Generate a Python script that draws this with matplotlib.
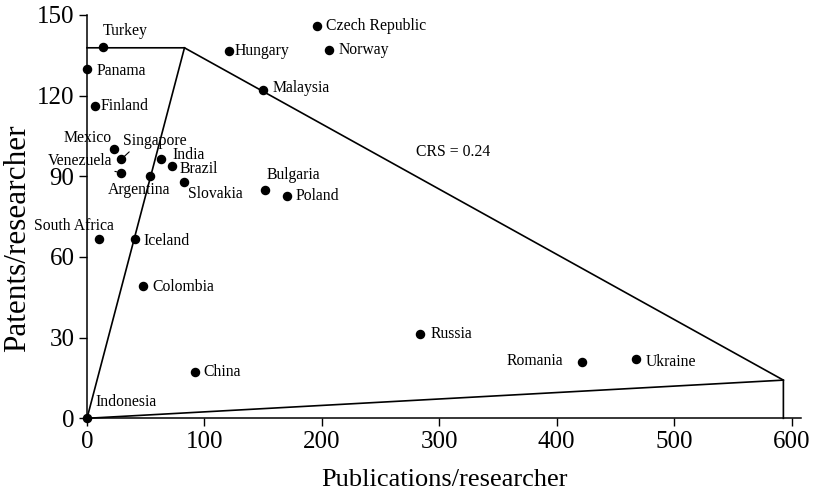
import matplotlib
matplotlib.use("Agg")
import matplotlib.pyplot as plt

plt.rcParams['font.family'] = ['Liberation Serif', 'DejaVu Serif']

countries = ["Turkey", "Panama", "Finland", "Mexico", "Singapore", "Venezuela",
             "India", "Brazil", "Argentina", "Slovakia", "Hungary", "Malaysia",
             "Czech Republic", "Norway", "Bulgaria", "Poland", "South Africa",
             "Iceland", "Colombia", "China", "Indonesia", "Russia", "Romania",
             "Ukraine"]
publications = [13.9, 0.3, 7.1, 23.0, 29.3, 28.8, 63.2, 72.5, 53.8, 83.0, 121.0,
                149.6, 195.5, 206.3, 151.7, 170.1, 10.2, 40.7, 48.1, 91.9, 0.0,
                283.4, 421.7, 467.2]
patents = [138.0, 129.9, 116.1, 100.0, 96.4, 91.3, 96.4, 93.9, 90.1, 87.9, 136.7,
           122.1, 146.0, 137.0, 85.0, 82.8, 66.7, 66.7, 49.1, 17.2, 0.0, 31.2,
           21.0, 21.9]

# frontier (DEA hull) segments
frontier_x = [0.0, 83.0, 593.0, 593.0]
frontier_y = [137.8, 137.8, 14.2, 0.0]
ray1_x = [0.0, 83.0]
ray1_y = [0.0, 137.8]
ray2_x = [0.0, 593.0]
ray2_y = [0.0, 14.2]

crs_text = "CRS = 0.24"
crs_pos = (280, 99.1)

x_ticks = [0, 100, 200, 300, 400, 500, 600]
y_ticks = [0, 30, 60, 90, 120, 150]

x_label = "Publications/researcher"
y_label = "Patents/researcher"

# label placement (offset pixels, ha)
label_style = {
    "Turkey": ((22, 16), "center"),
    "Panama": ((9, -2), "left"),
    "Finland": ((5, 0), "left"),
    "Mexico": ((-2, 11.6), "right"),
    "Singapore": ((1.7, 18), "left"),
    "Venezuela": ((-8.7, 11.7), "right"),
    "India": ((11.3, 4.5), "left"),
    "Brazil": ((7.7, -3), "left"),
    "Argentina": ((-11, -14), "center"),
    "Slovakia": ((3.7, -12), "left"),
    "Hungary": ((5.6, 0), "left"),
    "Malaysia": ((10, 2), "left"),
    "Czech Republic": ((9.7, 0), "left"),
    "Norway": ((9, 0), "left"),
    "Bulgaria": ((1, 14.7), "left"),
    "Poland": ((8.7, 0), "left"),
    "South Africa": ((-25, 13.3), "center"),
    "Iceland": ((8.3, -2.3), "left"),
    "Colombia": ((8.4, -1), "left"),
    "China": ((8.6, 0), "left"),
    "Indonesia": ((8, 16.3), "left"),
    "Russia": ((10.7, 0), "left"),
    "Romania": ((-18.7, 1), "right"),
    "Ukraine": ((9.7, -2.4), "left"),
}

fig = plt.figure(figsize=(8.14, 4.91), dpi=100)
ax = fig.add_axes([87/814, 72.7/491, (801-87)/814, (418.3-15)/491])

lw = 1.2
ax.plot(frontier_x, frontier_y, color="black", lw=lw, clip_on=False)
ax.plot(ray1_x, ray1_y, color="black", lw=lw, clip_on=False)
ax.plot(ray2_x, ray2_y, color="black", lw=lw, clip_on=False)

ax.scatter(publications, patents, s=34, color="black", zorder=5, clip_on=False)

fs = 11.3
for name, x, y in zip(countries, publications, patents):
    (dx, dy), ha = label_style[name]
    if name == "Singapore":
        ax.annotate(name, (x, y), xytext=(dx, dy), textcoords="offset pixels",
                    ha=ha, va="center", fontsize=fs,
                    arrowprops=dict(arrowstyle="-", color="black", lw=0.8,
                                    relpos=(0.17, 0.1), shrinkA=0, shrinkB=3))
    elif name == "Venezuela":
        ax.annotate(name, (x, y), xytext=(dx, dy), textcoords="offset pixels",
                    ha=ha, va="center", fontsize=fs,
                    arrowprops=dict(arrowstyle="-", color="black", lw=0.8,
                                    relpos=(0.9, 0.0), shrinkA=0, shrinkB=3))
    else:
        ax.annotate(name, (x, y), xytext=(dx, dy), textcoords="offset pixels",
                    ha=ha, va="center", fontsize=fs)

ax.text(crs_pos[0], crs_pos[1], crs_text, fontsize=fs, ha="left", va="center")

ax.set_xlim(0, 608)
ax.set_ylim(0, 150)
ax.set_xticks(x_ticks)
ax.set_yticks(y_ticks)
ax.spines["top"].set_visible(False)
ax.spines["right"].set_visible(False)
for s in ("left", "bottom"):
    ax.spines[s].set_linewidth(1.1)
ax.tick_params(direction="out", length=6, width=1.0, labelsize=18, pad=3)

ax.set_xlabel(x_label, fontsize=19, labelpad=12)
ax.set_ylabel(y_label, fontsize=22.5)
ax.yaxis.set_label_coords(-0.077, 0.447)

fig.savefig("out.png", dpi=100)
